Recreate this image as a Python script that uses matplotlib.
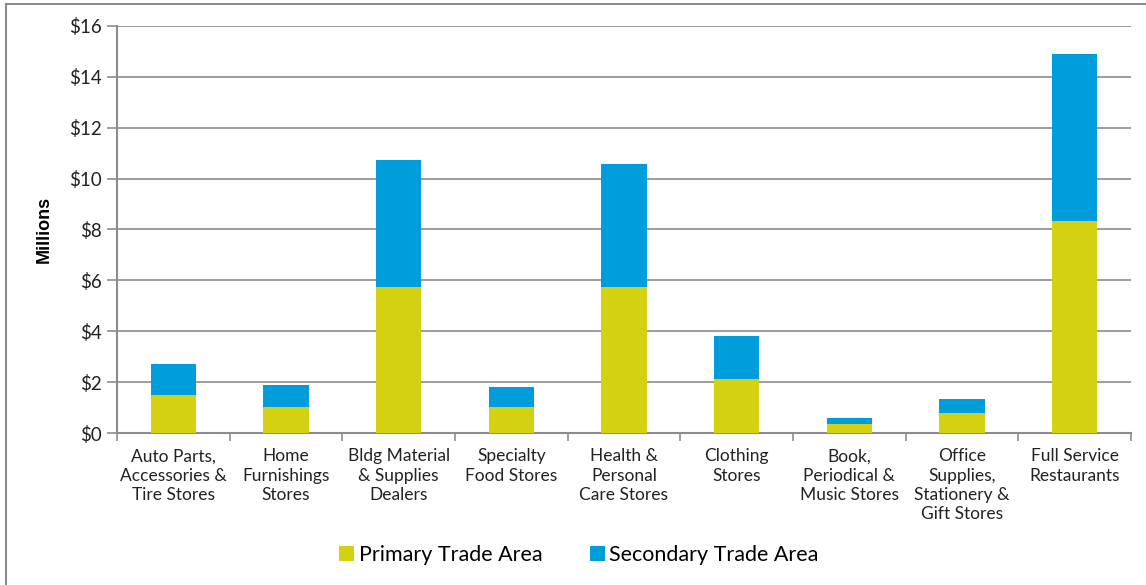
import numpy as np
import matplotlib.pyplot as plt
from matplotlib.lines import Line2D

plt.rcParams['font.family'] = ['Lato', 'DejaVu Sans']

# store categories and sales by trade area ($ millions)
categories = ['Auto Parts,\nAccessories &\nTire Stores', 'Home\nFurnishings\nStores',
              'Bldg Material\n& Supplies\nDealers', 'Specialty\nFood Stores',
              'Health &\nPersonal\nCare Stores', 'Clothing\nStores',
              'Book,\nPeriodical &\nMusic Stores', 'Office\nSupplies,\nStationery &\nGift Stores',
              'Full Service\nRestaurants']
primary = [1.49, 1.02, 5.74, 1.02, 5.74, 2.12, 0.35, 0.79, 8.33]
secondary = [1.22, 0.87, 4.99, 0.79, 4.83, 1.69, 0.24, 0.55, 6.57]
yticks = [0, 2, 4, 6, 8, 10, 12, 14, 16]

c_primary = '#d4d012'
c_secondary = '#009ddc'
grid_c = '#8c8c8c'

fig = plt.figure(figsize=(11.46, 5.85), dpi=100)
ax = fig.add_axes([0.1021, 0.2598, 0.8848, 0.6958])

x = np.arange(len(categories))
ax.bar(x, primary, width=0.40, color=c_primary, label='Primary Trade Area', zorder=3)
ax.bar(x, secondary, width=0.40, bottom=primary, color=c_secondary,
       label='Secondary Trade Area', zorder=3)

ax.set_xlim(-0.5, len(categories) - 0.5)
ax.set_ylim(0, 16)
ax.set_yticks(yticks)
ax.set_yticklabels(['$%d' % v for v in yticks], fontsize=13.5, color='#222222')
ax.yaxis.grid(True, color=grid_c, linewidth=1.2, zorder=0)
ax.tick_params(axis='y', length=7, width=1.2, color=grid_c, pad=4)

# category labels centred under bars, tick marks between categories
ax.set_xticks(x)
ax.set_xticklabels(categories, fontsize=12.5, color='#222222', linespacing=1.25)
ax.tick_params(axis='x', length=0, pad=11)
ax.set_xticks(np.arange(len(categories) + 1) - 0.5, minor=True)
ax.tick_params(axis='x', which='minor', length=6, width=1.2, color=grid_c)

for side in ['top', 'right']:
    ax.spines[side].set_visible(False)
for side in ['left', 'bottom']:
    ax.spines[side].set_color(grid_c)
    ax.spines[side].set_linewidth(1.5)

ax.set_ylabel('Millions', fontsize=13, fontweight='bold', family=['Liberation Sans'], labelpad=12)

fig.legend(loc='center', bbox_to_anchor=(0.505, 0.051), ncol=2, frameon=False,
           fontsize=15.5, handlelength=0.7, handleheight=0.7, handletextpad=0.2,
           columnspacing=2.2)

# outer chart border
fig.add_artist(Line2D([0.005, 0.005], [0, 0.993], color='#8c8c8c', linewidth=1.5))
fig.add_artist(Line2D([0.005, 1.0], [0.993, 0.993], color='#8c8c8c', linewidth=1.5))

fig.savefig('out.png', dpi=100)
